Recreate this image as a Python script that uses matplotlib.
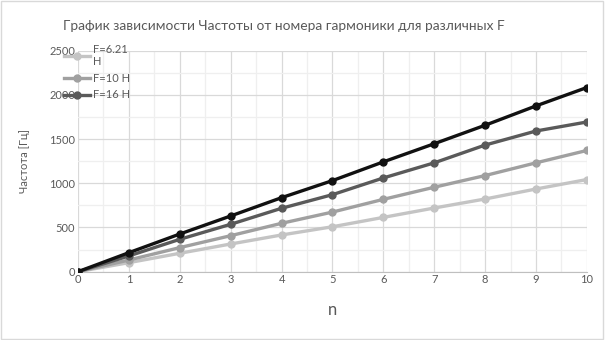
import matplotlib.pyplot as plt
import matplotlib.patches as mpatches
from matplotlib.ticker import MultipleLocator

plt.rcParams['font.family'] = ['Lato', 'DejaVu Sans']

n = [0, 1, 2, 3, 4, 5, 6, 7, 8, 9, 10]
f_621 = [0, 102, 208, 313, 415, 508, 614, 720, 822, 935, 1042]
f_10 = [0, 132, 272, 407, 547, 674, 818, 955, 1087, 1231, 1371]
f_16 = [0, 178, 366, 536, 717, 871, 1060, 1231, 1432, 1591, 1693]
f_top = [0, 215, 426, 630, 837, 1030, 1242, 1447, 1656, 1875, 2083]

labels = ['F=6.21\nH', 'F=10 H', 'F=16 H']
colours = ['#c4c4c4', '#a0a0a0', '#5a5a5a', '#111111']
txt = '#595959'

fig = plt.figure(figsize=(6.05, 3.4), dpi=100)
ax = fig.add_axes([0.129, 0.201, 0.841, 0.650])

series = [f_621, f_10, f_16, f_top]
for i, ys in enumerate(series):
    lab = labels[i] if i < len(labels) else '_nolegend_'
    ax.plot(n, ys, color=colours[i], lw=2.4, marker='o', ms=5, label=lab, zorder=3 + i)

ax.set_xlim(0, 10)
ax.set_ylim(0, 2500)
ax.xaxis.set_major_locator(MultipleLocator(1))
ax.xaxis.set_minor_locator(MultipleLocator(0.5))
ax.yaxis.set_major_locator(MultipleLocator(500))
ax.yaxis.set_minor_locator(MultipleLocator(250))
ax.grid(which='major', color='#d9d9d9', lw=0.9)
ax.grid(which='minor', color='#efefef', lw=0.9)
ax.set_axisbelow(True)
for s in ['top', 'right', 'left']:
    ax.spines[s].set_visible(False)
ax.spines['bottom'].set_color('#bfbfbf')
ax.tick_params(which='both', length=0, labelsize=8, labelcolor=txt, pad=2)

ax.set_xlabel('n', fontsize=12, color=txt, labelpad=12)
ax.set_ylabel('Частота [Гц]', fontsize=8, color=txt, labelpad=14)
fig.text(0.47, 0.925, 'График зависимости Частоты от номера гармоники для различных F',
         ha='center', va='center', fontsize=9.9, color=txt)

ax.legend(loc='upper left', bbox_to_anchor=(0.098, 0.885), bbox_transform=fig.transFigure,
          frameon=False, fontsize=8, labelcolor=txt, handlelength=2.4,
          handletextpad=0.2, labelspacing=0.5, borderaxespad=0)

fig.patches.append(mpatches.Rectangle((0.002, 0.003), 0.995, 0.994, transform=fig.transFigure,
                                      fill=False, edgecolor='#d9d9d9', lw=1))

fig.savefig('out.png', dpi=100)
